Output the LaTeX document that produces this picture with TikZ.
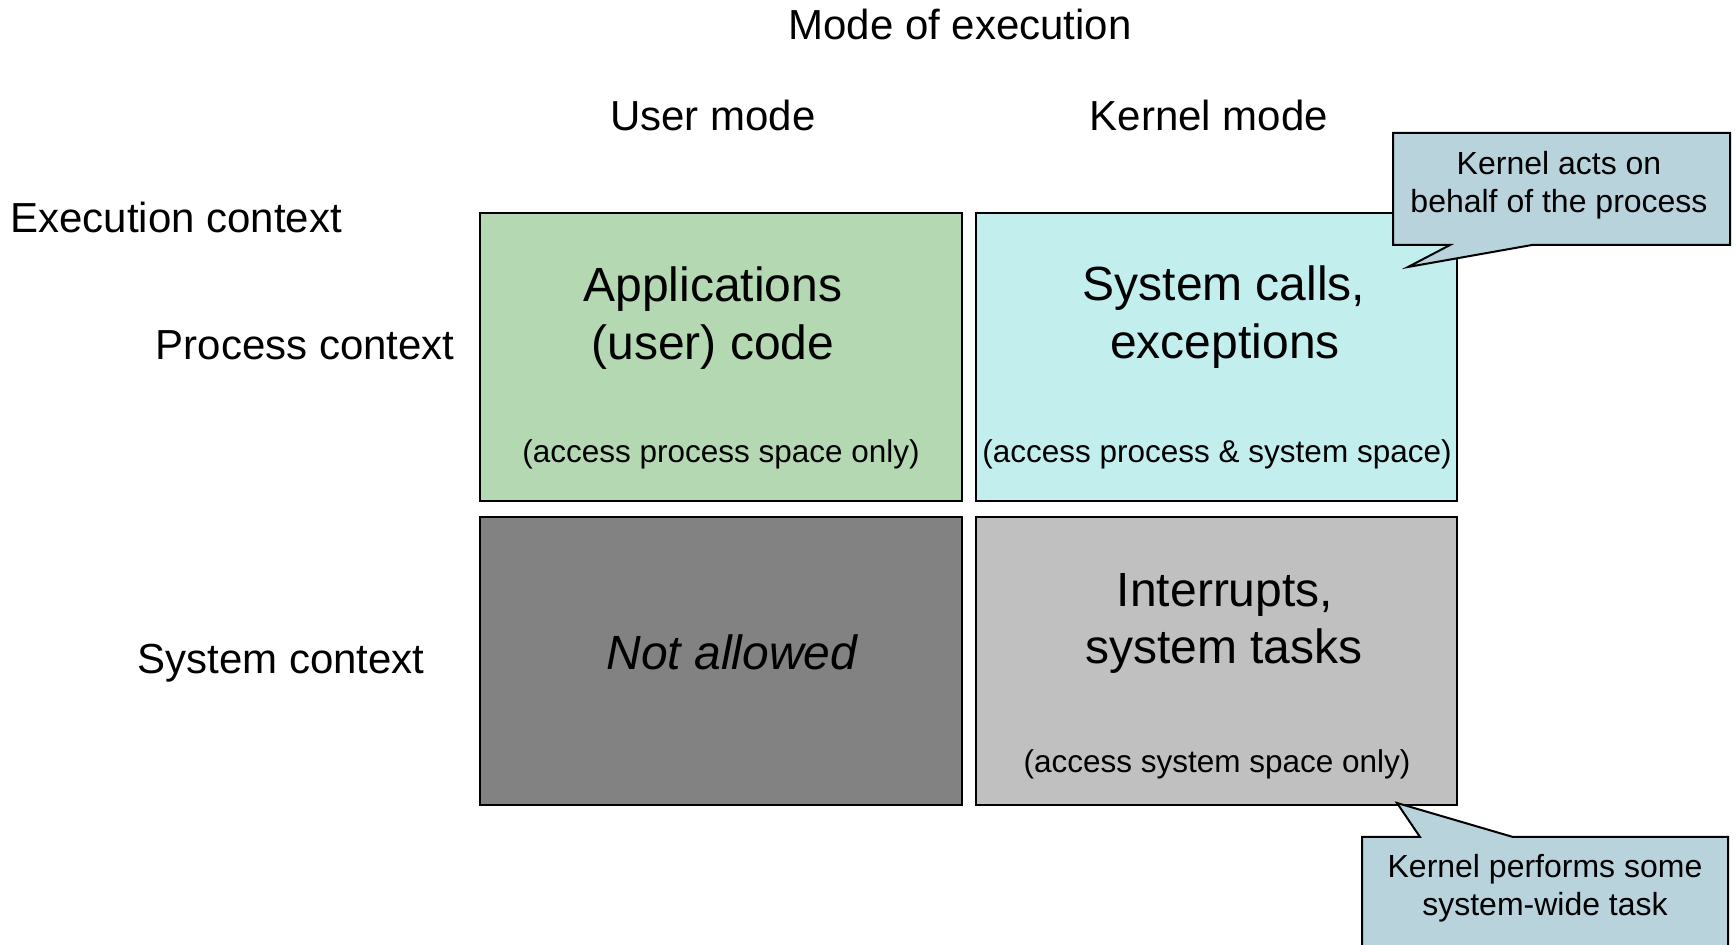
\documentclass[tikz,border=0pt]{standalone}
\usepackage{fontspec}
\setmainfont{Liberation Sans}
\definecolor{usergreen}{HTML}{B3D8B2}
\definecolor{kernelcyan}{HTML}{C3EEEE}
\definecolor{forbidgrey}{HTML}{828282}
\definecolor{syslgrey}{HTML}{C0C0C0}
\definecolor{calloutblue}{HTML}{B9D3DD}
\tikzset{
  cell/.style={draw=black, line width=1pt, minimum width=241pt, minimum height=144pt, inner sep=0pt},
  hdr/.style={font=\fontsize{21}{25}\selectfont, anchor=base, inner sep=0pt},
  big/.style={font=\fontsize{24}{29}\selectfont, anchor=base, inner sep=0pt},
  note/.style={font=\fontsize{15.75}{19}\selectfont, anchor=base, inner sep=0pt},
  calltext/.style={font=\fontsize{16}{19}\selectfont, anchor=base, inner sep=0pt},
  callout/.style={draw=black, line width=1pt, fill=calloutblue, line join=miter},
}
\begin{document}
\begin{tikzpicture}[x=0.5pt,y=-0.5pt]
  \useasboundingbox (0,0) rectangle (1736,945);
  \clip (0,0) rectangle (1736,945);

  % column and row headings
  \node[hdr] (mode) at (960,40) {Mode of execution};
  \node[hdr] (user) at (713,131) {User mode};
  \node[hdr] (kern) at (1209,131) {Kernel mode};
  \node[hdr, anchor=base west] (ectx) at (10,233) {Execution context};
  \node[hdr, anchor=base east] (pctx) at (455,360) {Process context};
  \node[hdr, anchor=base east] (sctx) at (425,674) {System context};

  % the four cells of the matrix
  \node[cell, fill=usergreen] (app) at (721,357.5) {};
  \node[cell, fill=kernelcyan, minimum width=240.5pt] (sys) at (1216.5,357.5) {};
  \node[cell, fill=forbidgrey] (na) at (721,661) {};
  \node[cell, fill=syslgrey, minimum width=240.5pt] (irq) at (1216.5,661) {};

  % cell texts
  \node[big] (app1) at (713,302) {Applications};
  \node[big] (app2) at (713,360) {(user) code};
  \node[note] (app3) at (721,463) {(access process space only)};

  \node[big] (sys1) at (1224,301) {System calls,};
  \node[big] (sys2) at (1225,359) {exceptions};
  \node[note] (sys3) at (1217,463) {(access process \& system space)};

  \node[big, font=\fontsize{24}{29}\selectfont\itshape] (na1) at (732,670) {Not allowed};

  \node[big] (irq1) at (1225,607) {Interrupts,};
  \node[big] (irq2) at (1224,664) {system tasks};
  \node[note] (irq3) at (1217,773) {(access system space only)};

  % callout: kernel acting for the process
  \path[callout] (1393,133) -- (1730,133) -- (1730,245) -- (1532,245)
    -- (1408,267) -- (1450,245) -- (1393,245) -- cycle;
  \node[calltext] (c1a) at (1559,175) {Kernel acts on};
  \node[calltext] (c1b) at (1559,213) {behalf of the process};

  % callout: system-wide kernel work
  \path[callout] (1362,837) -- (1420,837) -- (1397,803) -- (1513,837)
    -- (1728,837) -- (1728,970) -- (1362,970) -- cycle;
  \node[calltext] (c2a) at (1545,878) {Kernel performs some};
  \node[calltext] (c2b) at (1545,916) {system-wide task};
\end{tikzpicture}
\end{document}
